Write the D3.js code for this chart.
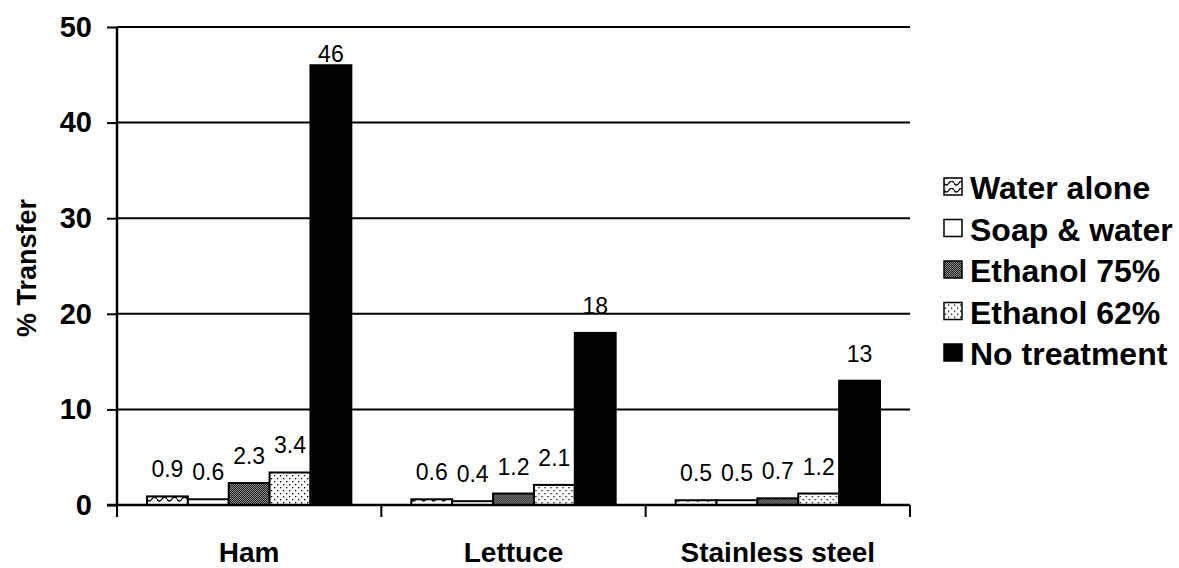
<!DOCTYPE html>
<html>
<head>
<meta charset="utf-8">
<script src="https://cdnjs.cloudflare.com/ajax/libs/d3/7.8.5/d3.min.js"></script>
<style>
body { margin: 0; background: #fff; }
text { font-family: "Liberation Sans", Arial, sans-serif; }
</style>
</head>
<body>
<script>
var categories = ["Ham", "Lettuce", "Stainless steel"];
var series = ["Water alone", "Soap & water", "Ethanol 75%", "Ethanol 62%", "No treatment"];
var values = [
    [0.9, 0.6, 2.3, 3.4, 46],
    [0.6, 0.4, 1.2, 2.1, 18],
    [0.5, 0.5, 0.7, 1.2, 13]
];
var labels = [
    ["0.9", "0.6", "2.3", "3.4", "46"],
    ["0.6", "0.4", "1.2", "2.1", "18"],
    ["0.5", "0.5", "0.7", "1.2", "13"]
];
var yTicks = [0, 10, 20, 30, 40, 50];

var width = 1179, height = 568;
var margin = {left: 117, right: 269, top: 27, bottom: 63};

var svg = d3.select("body").append("svg")
    .attr("width", width)
    .attr("height", height);

// fill patterns
var defs = svg.append("defs");
var wave = defs.append("pattern").attr("id", "wave")
    .attr("patternUnits", "userSpaceOnUse").attr("width", 10).attr("height", 7);
wave.append("rect").attr("width", 10).attr("height", 7).attr("fill", "#fff");
wave.append("path").attr("d", "M0,2 Q2.5,6 5,2 T10,2")
    .attr("fill", "none").attr("stroke", "#000").attr("stroke-width", 1.3);

var dense = defs.append("pattern").attr("id", "dense")
    .attr("patternUnits", "userSpaceOnUse").attr("width", 2).attr("height", 2);
dense.append("rect").attr("width", 2).attr("height", 2).attr("fill", "#8a8a8a");
dense.append("rect").attr("width", 1).attr("height", 1).attr("fill", "#222");
dense.append("rect").attr("x", 1).attr("y", 1).attr("width", 1).attr("height", 1).attr("fill", "#222");

var dots = defs.append("pattern").attr("id", "dots")
    .attr("patternUnits", "userSpaceOnUse").attr("width", 6).attr("height", 6);
dots.append("rect").attr("width", 6).attr("height", 6).attr("fill", "#fff");
dots.append("rect").attr("x", 1).attr("y", 1).attr("width", 1.3).attr("height", 1.3).attr("fill", "#000");
dots.append("rect").attr("x", 4).attr("y", 4).attr("width", 1.3).attr("height", 1.3).attr("fill", "#000");

var fills = ["url(#wave)", "#fff", "url(#dense)", "url(#dots)", "#000"];

var x0 = d3.scaleBand()
    .domain(categories)
    .range([margin.left, width - margin.right]);

var x1 = d3.scaleBand()
    .domain(series)
    .range([30, x0.bandwidth() - 30]);

var y = d3.scaleLinear()
    .domain([0, 50])
    .range([height - margin.bottom, margin.top]);

// gridlines
svg.append("g").selectAll("line")
    .data(yTicks.slice(1))
    .enter().append("line")
    .attr("x1", margin.left)
    .attr("x2", width - margin.right)
    .attr("y1", function (d) { return y(d); })
    .attr("y2", function (d) { return y(d); })
    .attr("stroke", "#000")
    .attr("stroke-width", 2);

// bars
var groups = svg.append("g").selectAll("g")
    .data(categories)
    .enter().append("g")
    .attr("transform", function (d) { return "translate(" + x0(d) + ",0)"; });

groups.selectAll("rect")
    .data(function (d, i) {
        return series.map(function (s, j) { return {s: s, v: values[i][j], label: labels[i][j], j: j}; });
    })
    .enter().append("rect")
    .attr("x", function (d) { return x1(d.s); })
    .attr("y", function (d) { return y(d.v); })
    .attr("width", x1.bandwidth())
    .attr("height", function (d) { return y(0) - y(d.v); })
    .attr("fill", function (d) { return fills[d.j]; })
    .attr("stroke", "#000")
    .attr("stroke-width", 2);

groups.selectAll("text")
    .data(function (d, i) {
        return series.map(function (s, j) { return {s: s, v: values[i][j], label: labels[i][j]}; });
    })
    .enter().append("text")
    .attr("x", function (d) { return x1(d.s) + x1.bandwidth() / 2; })
    .attr("y", function (d) { return Math.max(y(d.v) - 19, margin.top + 35); })
    .attr("text-anchor", "middle")
    .style("font-size", "23px")
    .text(function (d) { return d.label; });

// y axis
var yAxis = svg.append("g")
    .attr("transform", "translate(" + margin.left + ",0)")
    .call(d3.axisLeft(y).tickValues(yTicks).tickSize(10).tickPadding(15));
yAxis.select(".domain").attr("stroke-width", 2.5).attr("d", "M0," + y(0) + "V" + y(50));
yAxis.selectAll(".tick line").attr("stroke-width", 2);
yAxis.selectAll(".tick text")
    .style("font-size", "29px").style("font-weight", "bold")
    .style("font-family", "'Liberation Sans', Arial, sans-serif");

// x axis
var xAxis = svg.append("g")
    .attr("transform", "translate(0," + y(0) + ")");
xAxis.append("line")
    .attr("x1", margin.left - 10).attr("x2", width - margin.right)
    .attr("stroke", "#000").attr("stroke-width", 2.5);
xAxis.selectAll(".xtick")
    .data(categories.concat([null]))
    .enter().append("line")
    .attr("x1", function (d, i) { return margin.left + i * x0.step(); })
    .attr("x2", function (d, i) { return margin.left + i * x0.step(); })
    .attr("y1", 0).attr("y2", 12)
    .attr("stroke", "#000").attr("stroke-width", 2);
xAxis.selectAll(".xlabel")
    .data(categories)
    .enter().append("text")
    .attr("x", function (d) { return x0(d) + x0.bandwidth() / 2; })
    .attr("y", 57)
    .attr("text-anchor", "middle")
    .style("font-size", "28px").style("font-weight", "bold")
    .text(function (d) { return d; });

// y title
svg.append("text")
    .attr("transform", "translate(36," + 268 + ") rotate(-90)")
    .attr("text-anchor", "middle")
    .style("font-size", "27px").style("font-weight", "bold")
    .text("% Transfer");

// legend
var legend = svg.append("g").selectAll("g")
    .data(series)
    .enter().append("g")
    .attr("transform", function (d, i) { return "translate(944," + (188 + i * 41.5) + ")"; });
legend.append("rect")
    .attr("x", 0).attr("y", -10)
    .attr("width", 18).attr("height", 17)
    .attr("fill", function (d, i) { return fills[i]; })
    .attr("stroke", "#000").attr("stroke-width", 1.5);
legend.append("text")
    .attr("x", 26).attr("y", 11)
    .style("font-size", "32px").style("font-weight", "bold")
    .text(function (d) { return d; });
</script>
</body>
</html>
